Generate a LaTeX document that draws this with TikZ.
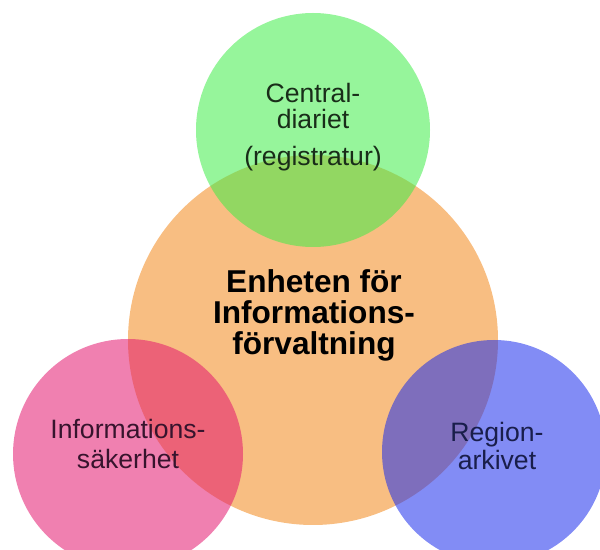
\documentclass[tikz,border=0pt]{standalone}
\usepackage{fontspec}
\setmainfont{Liberation Sans}
\definecolor{hubfill}{RGB}{248,190,130}
\definecolor{diariefill}{RGB}{64,236,73}
\definecolor{sakerfill}{RGB}{227,24,111}
\definecolor{arkivfill}{RGB}{27,45,236}
\definecolor{diarieink}{RGB}{25,45,25}
\definecolor{sakerink}{RGB}{55,20,45}
\definecolor{arkivink}{RGB}{25,30,75}
\usetikzlibrary{positioning}

\begin{document}
\begin{tikzpicture}[x=0.5pt, y=-0.5pt,
  ring/.style={circle, inner sep=0pt, fill opacity=0.55},
  ringtext/.style={align=center, inner sep=0pt},
  hubtext/.style={align=center, inner sep=0pt, font=\bfseries\fontsize{15.8}{15.5}\selectfont}
]
  \useasboundingbox (0,0) rectangle (600,550);
  \clip (0,0) rectangle (600,550);

  \node[circle, inner sep=0pt, fill=hubfill, minimum size=185pt] (hub) at (313,340) {};
  \node[ring, fill=diariefill, minimum size=117pt] (diarie) at (313,130) {};
  \node[ring, fill=sakerfill, minimum size=115pt] (saker) at (128,454) {};
  \node[ring, fill=arkivfill, minimum size=112pt] (arkiv) at (494,452) {};

  \node[hubtext] (hublabel) at (314,315) {Enheten för\\Informations-\\förvaltning};
  \node[ringtext, text=diarieink, font=\fontsize{13.3}{13}\selectfont] (diarielabel) at (313,127) {Central-\\diariet\\[5.5pt](registratur)};
  \node[ringtext, text=sakerink, font=\fontsize{13.3}{15}\selectfont] (sakerlabel) at (128,444) {Informations-\\säkerhet};
  \node[ringtext, text=arkivink, font=\fontsize{13.3}{14}\selectfont] (arkivlabel) at (497,446) {Region-\\arkivet};
\end{tikzpicture}
\end{document}
